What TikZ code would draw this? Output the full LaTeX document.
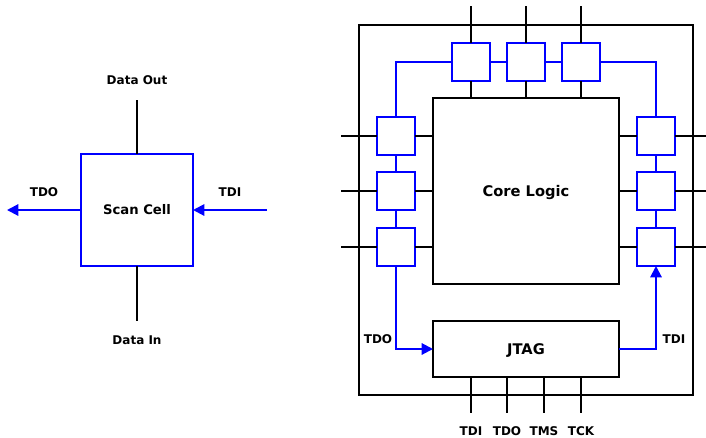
\documentclass[tikz,border=0pt]{standalone}
\usepackage{fontspec}
\setmainfont{DejaVu Sans}
\usetikzlibrary{arrows.meta,calc}
\tikzset{
    wire/.style={black, line width=1.5pt},
    scanwire/.style={blue, line width=1.5pt},
    scanarrow/.style={scanwire, -{Triangle[length=8.5pt, width=8.5pt]}},
    block/.style={draw=black, line width=1.5pt, outer sep=0pt, inner sep=0pt, text depth=0pt, font=\fontsize{11}{13}\bfseries},
    scancell/.style={draw=blue, line width=1.5pt, outer sep=0pt, inner sep=0pt, minimum size=28.5pt},
    pinlabel/.style={inner sep=0pt, font=\fontsize{9}{11}\bfseries}
}
\begin{document}
\begin{tikzpicture}[x=0.75pt, y=-0.75pt]
    \useasboundingbox (0,0) rectangle (706,437);

    % single scan cell
    \node [scancell, minimum size=84pt, font=\fontsize{9.9}{12}\bfseries] (cell) at (137,210) {Scan Cell};
    \coordinate (dataout) at (137,100);
    \coordinate (datain) at (137,321);
    \coordinate (tdoend) at (7,210);
    \coordinate (tdistart) at (267,210);
    \draw [wire] (cell.north) -- (dataout);
    \draw [wire] (cell.south) -- (datain);
    \draw [scanarrow] (cell.west) -- (tdoend);
    \draw [scanarrow] (tdistart) -- (cell.east);
    \node [pinlabel] (lblout) at (137,80.5) {Data Out};
    \node [pinlabel] (lblin) at (137,340) {Data In};
    \node [pinlabel] (lbltdo) at (44,192) {TDO};
    \node [pinlabel] (lbltdi) at (230,192) {TDI};

    % chip
    \node [block, minimum width=250.5pt, minimum height=277.5pt] (chip) at (526,210) {};
    \node [block, minimum width=139.5pt, minimum height=139.5pt] (core) at (526,191) {Core Logic};
    \node [block, minimum width=139.5pt, minimum height=42pt] (jtag) at (526,349) {JTAG};

    % boundary scan cells
    \foreach \name/\x/\y in {t1/471/62, t2/526/62, t3/581/62,
                             l1/396/136, l2/396/191, l3/396/247,
                             r1/656/136, r2/656/191, r3/656/247}
        \node [scancell] (\name) at (\x,\y) {};

    % pins
    \foreach \name in {t1,t2,t3} {
        \coordinate (\name pin) at (\name |- 0,6);
        \draw [wire] (\name pin) -- (\name.north);
        \draw [wire] (\name.south) -- (\name.south |- core.north);
    }
    \foreach \name in {l1,l2,l3} {
        \coordinate (\name pin) at (341,0 |- \name);
        \draw [wire] (\name pin) -- (\name.west);
        \draw [wire] (\name.east) -- (\name -| core.west);
    }
    \foreach \name in {r1,r2,r3} {
        \coordinate (\name pin) at (706,0 |- \name);
        \draw [wire] (\name pin) -- (\name.east);
        \draw [wire] (\name.west) -- (\name -| core.east);
    }
    \foreach \name/\x/\txt in {pa/471/TDI, pb/507/TDO, pc/544/TMS, pd/581/TCK} {
        \coordinate (\name) at (\x,377);
        \coordinate (\name end) at (\x,413);
        \draw [wire] (\name) -- (\name end);
        \node [pinlabel] (\name lbl) at (\x,431) {\txt};
    }

    % scan chain
    \draw [scanwire] (t1.west) -| (l1.north);
    \draw [scanwire] (t1.east) -- (t2.west) (t2.east) -- (t3.west);
    \draw [scanwire] (t3.east) -| (r1.north);
    \draw [scanwire] (l1.south) -- (l2.north) (l2.south) -- (l3.north);
    \draw [scanwire] (r1.south) -- (r2.north) (r2.south) -- (r3.north);
    \draw [scanarrow] (l3.south) |- (jtag.west);
    \draw [scanarrow] (jtag.east) -| (r3.south);
    \node [pinlabel] (lblchiptdo) at (378,339) {TDO};
    \node [pinlabel] (lblchiptdi) at (674,339) {TDI};
\end{tikzpicture}
\end{document}
